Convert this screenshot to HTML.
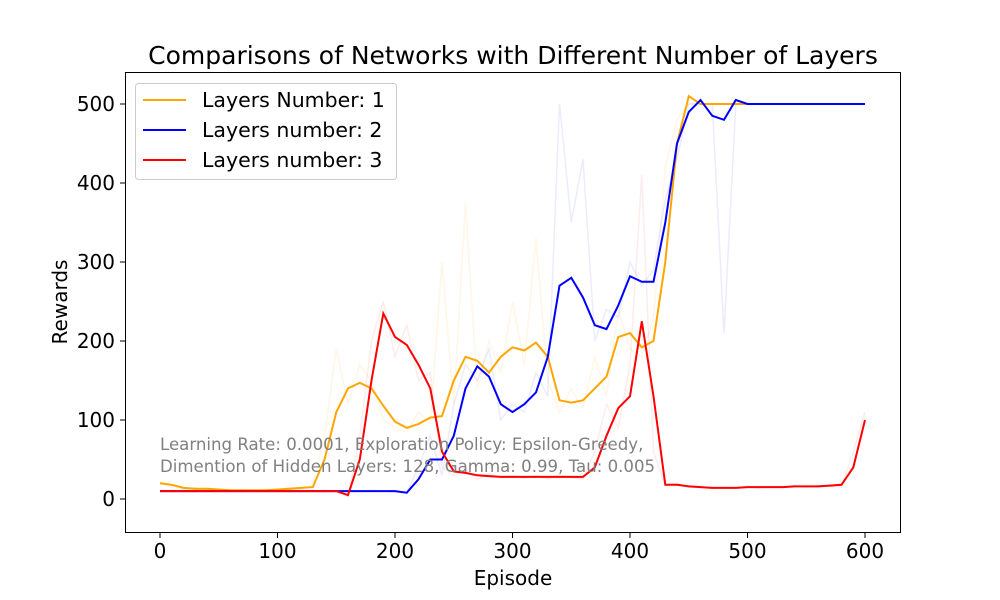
<!DOCTYPE html>
<html><head><meta charset="utf-8"><style>
body{margin:0;background:#fff}
svg{display:block;font-family:"DejaVu Sans","Liberation Sans",sans-serif}
</style></head><body>
<svg id="chart" width="1000" height="600">
<rect width="1000" height="600" fill="#fff"/>
<text x="513" y="64" font-size="25" text-anchor="middle">Comparisons of Networks with Different Number of Layers</text>
<g id="grid"></g>
<g id="raw"></g>
<g id="series"></g>
<rect x="125.5" y="72.5" width="775" height="460" fill="none" stroke="#000" stroke-width="1"/>
<text x="513" y="585" font-size="20" text-anchor="middle">Episode</text>
<text transform="translate(67,302) rotate(-90)" font-size="20" text-anchor="middle">Rewards</text>
<g fill="#808080" font-size="16.6">
<text x="160" y="450">Learning Rate: 0.0001, Exploration Policy: Epsilon-Greedy,</text>
<text x="160" y="472">Dimention of Hidden Layers: 128, Gamma: 0.99, Tau: 0.005</text>
</g>
<g>
<rect x="135.5" y="83.5" width="261" height="96" rx="3" fill="#fff" fill-opacity="0.8" stroke="#ccc"/>
<line x1="143" y1="100" x2="186" y2="100" stroke="orange" stroke-width="2"/>
<text x="202" y="107" font-size="20.5">Layers Number: 1</text>
<line x1="143" y1="130" x2="186" y2="130" stroke="blue" stroke-width="2"/>
<text x="202" y="137" font-size="20.5">Layers number: 2</text>
<line x1="143" y1="160" x2="186" y2="160" stroke="red" stroke-width="2"/>
<text x="202" y="167" font-size="20.5">Layers number: 3</text>
</g>
</svg>
<script>
const xTicks=[0,100,200,300,400,500,600];
const yTicks=[0,100,200,300,400,500];
const episodes=[0,10,20,30,40,50,60,70,80,90,100,110,120,130,140,150,160,170,180,190,200,210,220,230,240,250,260,270,280,290,300,310,320,330,340,350,360,370,380,390,400,410,420,430,440,450,460,470,480,490,500,510,520,530,540,550,560,570,580,590,600];
const layers1=[20,18,14,13,13,12,11,11,11,11,12,13,14,15,50,110,140,147,140,118,98,90,95,103,105,150,180,175,160,180,192,188,198,180,125,122,125,140,155,205,210,192,200,300,450,510,500,500,500,500,500];
const layers2=[10,10,10,10,10,10,10,10,10,10,10,10,10,10,10,10,10,10,10,10,10,8,25,50,50,80,140,168,155,120,110,120,135,180,270,280,255,220,215,245,282,275,275,350,450,490,505,485,480,505,500,500,500,500,500,500,500,500,500,500,500];
const layers3=[10,10,10,10,10,10,10,10,10,10,10,10,10,10,10,10,5,50,150,235,205,195,170,140,60,35,33,30,29,28,28,28,28,28,28,28,28,40,80,115,130,225,130,18,18,16,15,14,14,14,15,15,15,15,16,16,16,17,18,40,100];
const raw1=[22,15,12,14,10,13,9,12,10,13,11,15,12,18,80,190,120,170,150,100,90,85,110,95,300,120,375,140,200,160,250,170,330,150,110,140,115,180,130,240,190,180,230,420,480,500,500,500,500,500,500];
const raw2=[9,11,10,9,11,10,10,9,11,10,10,11,9,10,11,10,9,10,11,10,9,8,40,80,30,120,170,150,190,100,120,110,160,130,500,350,430,200,240,230,300,270,290,380,430,500,500,500,210,500,500,500,500,500,500,500,500,500,500,500,500];
const raw3=[11,9,10,11,9,10,11,10,9,10,11,9,10,11,9,10,3,80,200,250,180,220,150,160,40,30,38,25,32,27,30,26,30,25,31,27,25,60,120,90,170,410,60,17,20,15,16,13,15,14,16,14,16,15,17,15,17,16,15,60,110];
const xs=v=>160+v*1.175, ys=v=>499-v*0.79;
const NS='http://www.w3.org/2000/svg';
const g=document.getElementById('series'), gr=document.getElementById('grid'), gw=document.getElementById('raw');
function mk(t,a,p){const e=document.createElementNS(NS,t);for(const k in a)e.setAttribute(k,a[k]);p.appendChild(e);return e;}
xTicks.forEach(v=>{
 const l=mk('line',{x1:xs(v),x2:xs(v),y1:533,y2:538,stroke:'#000'},gr);
 
 
 const t=mk('text',{x:xs(v),y:558,'font-size':20,'text-anchor':'middle'},gr);t.textContent=v;
 
 
});
yTicks.forEach(v=>{
 const l=mk('line',{x1:120,x2:125,y1:ys(v),y2:ys(v),stroke:'#000'},gr);
 
 
 const t=mk('text',{x:115,y:ys(v)+7,'font-size':20,'text-anchor':'end'},gr);t.textContent=v;
 
 
});
function line(parent,vals,color,name,op){
 const d=vals.map((v,i)=>(i?'L':'M')+xs(episodes[i]).toFixed(1)+','+ys(v).toFixed(1)).join('');
 const p=mk('path',{d:d,fill:'none',stroke:color,'stroke-width':op<1?1.5:2,'stroke-opacity':op},parent);
 
 
}
line(gw,raw1,'orange','raw-layers-1',0.1);
line(gw,raw2,'blue','raw-layers-2',0.08);
line(gw,raw3,'red','raw-layers-3',0.08);
line(g,layers1,'orange','series-layers-1',1);
line(g,layers2,'blue','series-layers-2',1);
line(g,layers3,'red','series-layers-3',1);
</script>
</body></html>
